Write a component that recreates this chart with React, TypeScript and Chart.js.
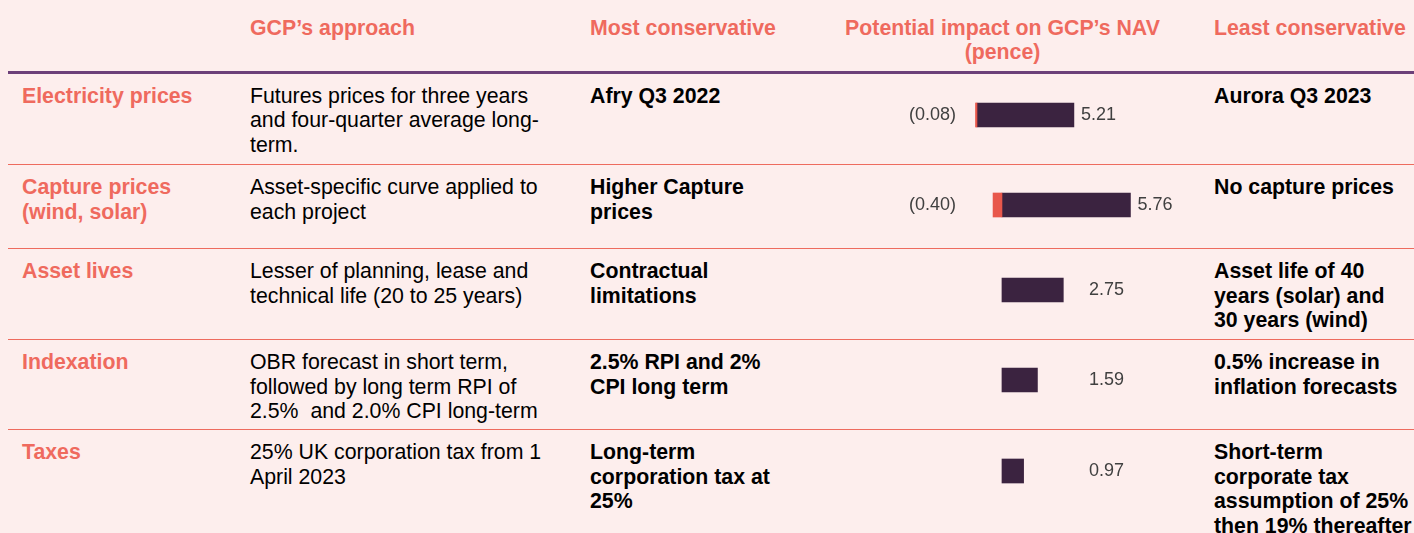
import React, { useEffect, useRef } from 'react';
import { Chart, registerables } from 'chart.js';

Chart.register(...registerables);

// ---------- data ----------
const categories: string[][] = [
  ['Electricity prices'],
  ['Capture prices', '(wind, solar)'],
  ['Asset lives'],
  ['Indexation'],
  ['Taxes'],
];
const approach: string[][] = [
  ['Futures prices for three years', 'and four-quarter average long-', 'term.'],
  ['Asset-specific curve applied to', 'each project'],
  ['Lesser of planning, lease and', 'technical life (20 to 25 years)'],
  ['OBR forecast in short term,', 'followed by long term RPI of', '2.5%  and 2.0% CPI long-term'],
  ['25% UK corporation tax from 1', 'April 2023'],
];
const mostConservative: string[][] = [
  ['Afry Q3 2022'],
  ['Higher Capture', 'prices'],
  ['Contractual', 'limitations'],
  ['2.5% RPI and 2%', 'CPI long term'],
  ['Long-term', 'corporation tax at', '25%'],
];
const leastConservative: string[][] = [
  ['Aurora Q3 2023'],
  ['No capture prices'],
  ['Asset life of 40', 'years (solar) and', '30 years (wind)'],
  ['0.5% increase in', 'inflation forecasts'],
  ['Short-term', 'corporate tax', 'assumption of 25%', 'then 19% thereafter'],
];
const downside: (number | null)[] = [-0.08, -0.4, null, null, null];
const upside: number[] = [5.21, 5.76, 2.75, 1.59, 0.97];
// per-row axis ranges (pence)
const axisMin: number[] = [-7.9, -7.71, -7.71, -7.71, -7.71];
const axisMax: number[] = [11.45, 8.43, 8.43, 8.43, 8.43];

const headers = ['GCP\u2019s approach', 'Most conservative', 'Least conservative'];
const impactHeader = ['Potential impact on GCP\u2019s NAV', '(pence)'];

// ---------- styles ----------
const FONT = '"Liberation Sans", Arial, Helvetica, sans-serif';
const BG = '#FDEEED';
const CORAL = '#EF6A5E';
const PURPLE = '#6C4079';
const SEP = '#EE6B5E';
const DARK = '#3B2340';
const RED = '#E8574B';
const LABEL = '#404040';

const sepY = [164, 248, 339, 429];
const textTop = [83.5, 175, 259, 350, 440];
const barCenter = [115, 205, 290, 380, 471];
const colLeft = [22, 250, 590, 1214];
const CHART_LEFT = 830;
const CHART_W = 360;
const CHART_H = 40;

function fmt(v: number): string {
  return v < 0 ? `(${Math.abs(v).toFixed(2)})` : v.toFixed(2);
}

const labelPlugin = {
  id: 'rowLabels',
  afterDatasetsDraw(chart: any) {
    const { ctx } = chart;
    const xs = chart.scales.x;
    const ys = chart.scales.y;
    const y = ys.getPixelForValue(0);
    const zero = xs.getPixelForValue(0);
    ctx.save();
    ctx.font = `18px ${FONT}`;
    ctx.fillStyle = LABEL;
    ctx.textBaseline = 'middle';
    const neg = chart.data.datasets[0].data[0];
    const pos = chart.data.datasets[1].data[0];
    if (neg !== null && neg !== undefined) {
      ctx.textAlign = 'right';
      ctx.fillText(fmt(neg), 126, y);
    }
    if (pos !== null && pos !== undefined) {
      const end = xs.getPixelForValue(pos);
      ctx.textAlign = 'left';
      ctx.fillText(fmt(pos), Math.max(end + 7, zero + 87), y);
    }
    ctx.restore();
  },
};

function RowChart({ i }: { i: number }) {
  const ref = useRef<HTMLCanvasElement | null>(null);
  useEffect(() => {
    if (!ref.current) return;
    const chart = new Chart(ref.current, {
      type: 'bar',
      data: {
        labels: [categories[i].join(' ')],
        datasets: [
          { data: [downside[i]], backgroundColor: RED, borderWidth: 0, barThickness: 24, stack: 's' },
          { data: [upside[i]], backgroundColor: DARK, borderWidth: 0, barThickness: 24, stack: 's' },
        ],
      },
      options: {
        indexAxis: 'y',
        animation: false,
        responsive: false,
        maintainAspectRatio: false,
        layout: { padding: 0 },
        scales: {
          x: { stacked: true, min: axisMin[i], max: axisMax[i], display: false },
          y: { stacked: true, display: false },
        },
        plugins: { legend: { display: false }, tooltip: { enabled: false } },
      },
      plugins: [labelPlugin],
    } as any);
    return () => chart.destroy();
  }, [i]);
  return (
    <canvas
      ref={ref}
      width={CHART_W}
      height={CHART_H}
      style={{
        position: 'absolute',
        left: CHART_LEFT,
        top: barCenter[i] - CHART_H / 2,
        width: CHART_W,
        height: CHART_H,
      }}
    />
  );
}

function Lines({ lines, left, top, color, bold }: { lines: string[]; left: number; top: number; color: string; bold: boolean }) {
  return (
    <div
      style={{
        position: 'absolute',
        left,
        top,
        color,
        fontWeight: bold ? 700 : 400,
        whiteSpace: 'pre',
      }}
    >
      {lines.map((l, k) => (
        <div key={k}>{l}</div>
      ))}
    </div>
  );
}

export default function App() {
  return (
    <div
      style={{
        position: 'absolute',
        left: 0,
        top: 0,
        width: 1414,
        height: 533,
        overflow: 'hidden',
        background: BG,
        fontFamily: FONT,
        fontSize: '21.3px',
        lineHeight: '24.5px',
      }}
    >
      <style>{`html,body{margin:0;overflow:hidden;background:${BG};}`}</style>
      {/* headers */}
      <Lines lines={[headers[0]]} left={colLeft[1]} top={15.6} color={CORAL} bold />
      <Lines lines={[headers[1]]} left={colLeft[2]} top={15.6} color={CORAL} bold />
      <div
        style={{
          position: 'absolute',
          left: 800,
          top: 15.6,
          width: 405,
          textAlign: 'center',
          color: CORAL,
          fontWeight: 700,
          whiteSpace: 'pre',
        }}
      >
        {impactHeader.map((l, k) => (
          <div key={k}>{l}</div>
        ))}
      </div>
      <Lines lines={[headers[2]]} left={colLeft[3]} top={15.6} color={CORAL} bold />
      {/* header rule */}
      <div style={{ position: 'absolute', left: 8, top: 71, width: 1406, height: 3, background: PURPLE }} />
      {/* row separators */}
      {sepY.map((y, k) => (
        <div key={k} style={{ position: 'absolute', left: 8, top: y, width: 1406, height: 1, background: SEP }} />
      ))}
      {/* rows */}
      {categories.map((c, i) => (
        <React.Fragment key={i}>
          <Lines lines={c} left={colLeft[0]} top={textTop[i]} color={CORAL} bold />
          <Lines lines={approach[i]} left={colLeft[1]} top={textTop[i]} color="#000" bold={false} />
          <Lines lines={mostConservative[i]} left={colLeft[2]} top={textTop[i]} color="#000" bold />
          <Lines lines={leastConservative[i]} left={colLeft[3]} top={textTop[i]} color="#000" bold />
          <RowChart i={i} />
        </React.Fragment>
      ))}
    </div>
  );
}
